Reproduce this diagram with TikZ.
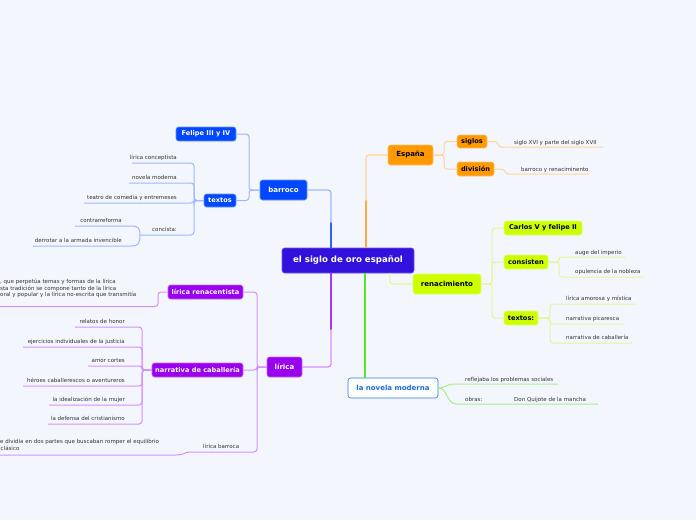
\documentclass[tikz,border=0pt]{standalone}
\usepackage{fontspec}
\setmainfont{DejaVu Sans}
\definecolor{bg}{HTML}{F4F6FD}
\definecolor{centralc}{HTML}{3311DD}
\definecolor{blueN}{HTML}{0047FF}
\definecolor{blueL}{HTML}{9DB8FF}
\definecolor{blueM}{HTML}{2A62FF}
\definecolor{orangeN}{HTML}{FF9900}
\definecolor{orangeL}{HTML}{FFD49A}
\definecolor{orangeM}{HTML}{FFAA3A}
\definecolor{yellowN}{HTML}{CCFF00}
\definecolor{yellowL}{HTML}{E6F59A}
\definecolor{purpleN}{HTML}{9900EE}
\definecolor{purpleL}{HTML}{D490FF}
\definecolor{purpleM}{HTML}{AA33F5}
\definecolor{greenM}{HTML}{55E62A}
\definecolor{greenL}{HTML}{A6EE8E}
\definecolor{novB}{HTML}{2B7BE4}
\definecolor{novT}{HTML}{1A6EDD}
\definecolor{leafc}{HTML}{333333}
\begin{document}
\begin{tikzpicture}[x=1pt,y=-1pt,
  nbox/.style={rounded corners=2.5pt, inner sep=0pt, line width=0.6pt, align=center},
  cbox/.style={nbox, fill=centralc, draw=centralc!70!white, text=white, font=\fontsize{8.6}{10}\selectfont\bfseries, minimum width=132pt, minimum height=25pt},
  mainb/.style={nbox, font=\fontsize{7}{8.5}\selectfont\bfseries, minimum height=20pt},
  subb/.style={nbox, font=\fontsize{6.6}{8}\selectfont\bfseries, minimum height=14pt},
  bluebox/.style={fill=blueN, draw=blueN!60!white, text=white},
  orangebox/.style={fill=orangeN, draw=orangeN!60!white, text=black},
  yellowbox/.style={fill=yellowN, draw=yellowN!60!white, text=black},
  purplebox/.style={fill=purpleN, draw=purpleN!60!white, text=white},
  leaf/.style={inner sep=0pt, font=\fontsize{5.5}{6.5}\selectfont, text=leafc},
  bl/.style={draw=blueL, line width=1pt, rounded corners=3pt},
  ol/.style={draw=orangeL, line width=1pt, rounded corners=3pt},
  yl/.style={draw=yellowL, line width=1pt, rounded corners=3pt},
  pl/.style={draw=purpleL, line width=1pt, rounded corners=3pt},
  gl/.style={draw=greenL, line width=1pt, rounded corners=3pt},
  mainc/.style={line width=1.3pt, rounded corners=3pt}
]
\useasboundingbox[fill=bg] (0,0) rectangle (696,520);

% ---------- nodes ----------
\node[cbox] (c) at (348,260.5) {el siglo de oro español};

\node[mainb, bluebox, minimum width=47pt] (bar) at (283.5,190) {barroco};
\node[subb, bluebox, minimum width=60pt] (fel) at (206,134) {Felipe III y IV};
\node[subb, bluebox, minimum width=32pt, minimum height=13pt] (tex) at (220,200.5) {textos};

\node[mainb, orangebox, minimum width=45pt] (esp) at (410.5,155) {España};
\node[subb, orangebox, minimum width=30pt, minimum height=13pt] (sig) at (472,141.5) {siglos};
\node[subb, orangebox, minimum width=37pt] (div) at (475.5,169) {división};

\node[mainb, yellowbox, minimum width=68pt] (ren) at (447,284) {renacimiento};
\node[subb, yellowbox, minimum width=78pt] (car) at (543,228) {Carlos V y felipe II};
\node[subb, yellowbox, minimum width=44pt] (con) at (526,262) {consisten};
\node[subb, yellowbox, minimum width=34pt] (tx2) at (521,318) {textos:};

\node[mainb, fill=white, draw=novB, text=novT, minimum width=90pt] (nov) at (393,388) {la novela moderna};

\node[mainb, purplebox, minimum width=35pt] (lir) at (284.5,367) {lírica};
\node[subb, purplebox, minimum width=75pt] (lren) at (205.5,292) {lírica renacentista};
\node[subb, purplebox, minimum width=91pt] (nar) at (197.5,370) {narrativa de caballería};

% ---------- main connectors ----------
\draw[mainc, draw=blueM] (c.north -| 331,0) -- (331,222);
\draw[mainc, draw=blueL] (331,223) |- (bar.east);
\draw[mainc, draw=orangeM] (c.north -| 366,0) -- (366,200);
\draw[mainc, draw=orangeL] (366,201) |- (esp.west);
\draw[mainc, draw=yellowL] (c.south -| 390,0) |- (ren.west);
\draw[mainc, draw=greenM] (c.south -| 365,0) -- (nov.north -| 365,0);
\draw[mainc, draw=purpleM] (c.south -| 331,0) -- (331,330);
\draw[mainc, draw=purpleL] (331,329) |- (lir.east);

% ---------- barroco ----------
\draw[bl] (bar.west) -- (249,190) |- (fel.east);
\draw[bl] (bar.west) -- (249,190) |- (tex.east);

\coordinate (t1) at (132,163);
\coordinate (t2) at (129,183);
\coordinate (t3) at (84,203);
\coordinate (t4) at (140,235);
\foreach \p in {t1,t2,t3,t4} \draw[bl] (tex.west) -- (194,200.5) |- (\p);
\node[leaf, anchor=base east] (lc) at (177,159.5) {lírica conceptista};
\node[leaf, anchor=base east] (nm) at (177,179.5) {novela moderna};
\node[leaf, anchor=base east] (tc) at (177,199.5) {teatro de comedia y entremeses};
\node[leaf, anchor=base east] (cs) at (177,231.5) {concista:};
\coordinate (t5) at (75,226);
\coordinate (t6) at (33,246);
\draw[bl, rounded corners=0pt] (t4) .. controls (140,228) and (138,226) .. (131,226) -- (t5);
\draw[bl, rounded corners=0pt] (t4) .. controls (140,244) and (138,246) .. (131,246) -- (t6);
\node[leaf, anchor=base east] (cr) at (122,222.5) {contrarreforma};
\node[leaf, anchor=base east] (da) at (122,242.5) {derrotar a la armada invencible};

% ---------- España ----------
\draw[ol] (esp.east) -- (444,155) |- (sig.west);
\draw[ol] (esp.east) -- (444,155) |- (div.west);
\coordinate (s1) at (603,147);
\coordinate (s2) at (589,174);
\draw[ol, rounded corners=2pt] (sig.east) -- (497,141.5) -- (499,147) -- (s1);
\draw[ol, rounded corners=2pt] (div.east) -- (504,169) -- (506,174) -- (s2);
\node[leaf, anchor=base west] (sx) at (514,144) {siglo XVI y parte del siglo XVII};
\node[leaf, anchor=base west] (br) at (521,171) {barroco y renaciminento};

% ---------- renacimiento ----------
\draw[yl] (ren.east) -- (492,284) |- (car.west);
\draw[yl] (ren.east) -- (492,284) |- (con.west);
\draw[yl] (ren.east) -- (492,284) |- (tx2.west);
\coordinate (r1) at (626,257);
\coordinate (r2) at (644,277);
\draw[yl] (con.east) -- (559,262) |- (r1);
\draw[yl] (con.east) -- (559,262) |- (r2);
\node[leaf, anchor=base west] (ai) at (575,254) {auge del imperio};
\node[leaf, anchor=base west] (on) at (575,273.5) {opulencia de la nobleza};
\coordinate (r3) at (636,304);
\coordinate (r4) at (623,324);
\coordinate (r5) at (632,343);
\foreach \p in {r3,r4,r5} \draw[yl] (tx2.east) -- (550,318) |- (\p);
\node[leaf, anchor=base west] (la) at (566,300.5) {lírica amorosa y mística};
\node[leaf, anchor=base west] (np) at (566,320.5) {narrativa picaresca};
\node[leaf, anchor=base west] (nc) at (566,339.5) {narrativa de caballería};

% ---------- novela moderna ----------
\coordinate (n1) at (558,384);
\coordinate (n2) at (598,404);
\draw[gl, rounded corners=0pt] (nov.east) .. controls (446,388) and (446,384) .. (455,384) -- (n1);
\draw[gl, rounded corners=0pt] (nov.east) .. controls (448,388) and (446,404) .. (457,404) -- (n2);
\node[leaf, anchor=base west] (rp) at (465,381) {reflejaba los problemas sociales};
\node[leaf, anchor=base west] (ob) at (465,401) {obras:};
\node[leaf, anchor=base west] (dq) at (514,401) {Don Quijote de la mancha};

% ---------- lírica ----------
\coordinate (l1) at (-2,306.5);
\draw[pl] (lir.west) -- (257,367) |- (lren.east);
\draw[pl] (lir.west) -- (257,367) |- (nar.east);
\draw[pl] (lren.west) -- (158,292) |- (l1);
\node[leaf, anchor=base west] (lrt) at (0,283.5) {, que perpetúa temas y formas de la lírica};
\node[leaf, anchor=base west] (lrt2) at (0,290) {sta tradición se compone tanto de la lírica};
\node[leaf, anchor=base west] (lrt3) at (0,296.5) {oral y popular y la lírica no-escrita que transmitía};

\coordinate (l2) at (-2,455);
\draw[pl] (lir.west) -- (257,367) |- (190,452);
\draw[pl, rounded corners=0pt] (190,452) .. controls (184,452) and (185,455) .. (176,455) -- (l2);
\node[leaf, anchor=base west] (lb) at (203,448) {lírica barroca};
\node[leaf, anchor=base west] (sd) at (0,443.5) {e dividía en dos partes que buscaban romper el equilibrio};
\node[leaf, anchor=base west] (cl) at (0.5,450) {clásico};

\coordinate (p1) at (75,327);
\coordinate (p2) at (23,347);
\coordinate (p3) at (88,366);
\coordinate (p4) at (23,386);
\coordinate (p5) at (49,405);
\coordinate (p6) at (48,424);
\foreach \p in {p1,p2,p3,p4,p5,p6} \draw[pl] (nar.west) -- (142,370) |- (\p);
\node[leaf, anchor=base east] (rh) at (125,323.5) {relatos de honor};
\node[leaf, anchor=base east] (ej) at (125,343.5) {ejercicios individuales de la justicia};
\node[leaf, anchor=base east] (ac) at (125,362.5) {amor cortes};
\node[leaf, anchor=base east] (hc) at (125,382.5) {héroes caballerescos o aventureros};
\node[leaf, anchor=base east] (im) at (125,401.5) {la idealización de la mujer};
\node[leaf, anchor=base east] (dc) at (125,420.5) {la defensa del cristianismo};
\end{tikzpicture}
\end{document}
